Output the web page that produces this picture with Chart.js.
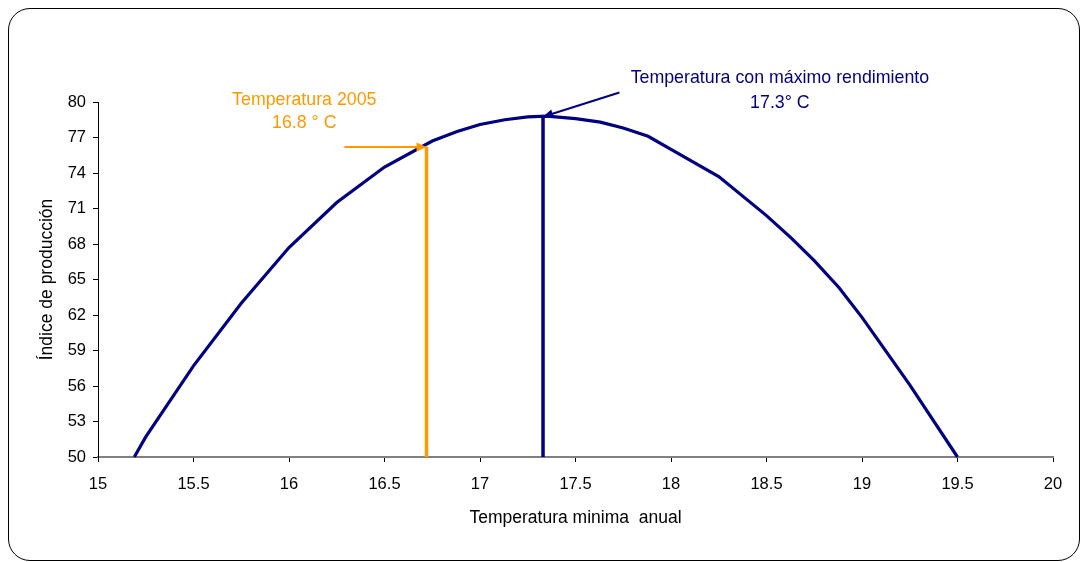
<!DOCTYPE html>
<html><head><meta charset="utf-8">
<script src="https://cdn.jsdelivr.net/npm/chart.js@4/dist/chart.umd.min.js"></script>
<style>
html,body{margin:0;padding:0;background:#fff;}
#wrap{position:relative;width:1083px;height:562px;overflow:hidden;}
#frame{position:absolute;left:8px;top:8px;width:1072px;height:553px;border:1.5px solid #000;border-radius:22px;box-sizing:border-box;pointer-events:none;}
canvas{position:absolute;left:0;top:0;}
</style>
</head><body>
<div id="wrap"><canvas id="c" width="1083" height="562"></canvas><div id="frame"></div></div>
<script>
// Curve data
const temps   = [15.19, 15.25, 15.5, 15.75, 16.0, 16.25, 16.5, 16.75, 16.88, 17.0, 17.13, 17.25, 17.35, 17.5, 17.63, 17.75, 17.88, 18.0, 18.25, 18.5, 18.63, 18.75, 18.88, 19.0, 19.25, 19.5];
const indices = [50.0, 51.7, 57.7, 63.0, 67.7, 71.5, 74.5, 76.7, 77.5, 78.1, 78.5, 78.75, 78.8, 78.6, 78.3, 77.8, 77.1, 76.0, 73.7, 70.4, 68.5, 66.6, 64.3, 61.8, 56.1, 50.0];
// Annotation lines
const line2005X = [16.72, 16.72];
const line2005Y = [50, 76.2];
const arrow2005X = [16.29, 16.72];
const arrow2005Y = [76.2, 76.2];
const lineMaxX = [17.33, 17.33];
const lineMaxY = [50, 78.75];
const arrowMaxX = [17.73, 17.33];
const arrowMaxY = [80.8, 78.75];
// Annotation texts
const label2005 = ["Temperatura 2005", "16.8 ° C"];
const label2005X = 16.08;
const label2005Y = [80.15, 78.2];
const labelMax = ["Temperatura con máximo rendimiento", "17.3° C"];
const labelMaxX = 18.57;
const labelMaxY = [82.0, 79.9];
// Axis ticks
const xMin = 15, xMax = 20, xStep = 0.5;
const yMin = 50, yMax = 80, yStep = 3;

const ORANGE = '#FF9900', NAVY = '#000080';
const pts = (xs, ys) => xs.map((x, i) => ({x: x, y: ys[i]}));

const arrowPlugin = {
  id: 'arrows',
  afterDatasetsDraw(chart) {
    const {ctx, scales: {x, y}} = chart;
    function head(xs, ys, color, size) {
      const x0 = x.getPixelForValue(xs[0]), y0 = y.getPixelForValue(ys[0]);
      const x1 = x.getPixelForValue(xs[1]), y1 = y.getPixelForValue(ys[1]);
      const a = Math.atan2(y1 - y0, x1 - x0);
      ctx.save();
      ctx.fillStyle = color;
      ctx.beginPath();
      ctx.moveTo(x1, y1);
      ctx.lineTo(x1 - size * Math.cos(a) + size * 0.45 * Math.sin(a), y1 - size * Math.sin(a) - size * 0.45 * Math.cos(a));
      ctx.lineTo(x1 - size * Math.cos(a) - size * 0.45 * Math.sin(a), y1 - size * Math.sin(a) + size * 0.45 * Math.cos(a));
      ctx.closePath();
      ctx.fill();
      ctx.restore();
    }
    head(arrow2005X, arrow2005Y, ORANGE, 10);
    head(arrowMaxX, arrowMaxY, NAVY, 10);
    ctx.save();
    ctx.font = '17.8px "Liberation Sans", Arial, sans-serif';
    ctx.textAlign = 'center';
    ctx.textBaseline = 'middle';
    ctx.fillStyle = ORANGE;
    label2005.forEach((t, i) => ctx.fillText(t, x.getPixelForValue(label2005X), y.getPixelForValue(label2005Y[i])));
    ctx.fillStyle = NAVY;
    labelMax.forEach((t, i) => ctx.fillText(t, x.getPixelForValue(labelMaxX), y.getPixelForValue(labelMaxY[i])));
    ctx.restore();
  }
};

const tickFont = {family: '"Liberation Sans", Arial, sans-serif', size: 16.5};
const titleFont = {family: '"Liberation Sans", Arial, sans-serif', size: 17.5};

new Chart(document.getElementById('c'), {
  type: 'scatter',
  data: {
    datasets: [
      {data: pts(line2005X, line2005Y), showLine: true, borderColor: ORANGE, borderWidth: 3.5, pointRadius: 0, clip: false},
      {data: pts(arrow2005X, arrow2005Y), showLine: true, borderColor: ORANGE, borderWidth: 2, pointRadius: 0, clip: false},
      {data: pts(lineMaxX, lineMaxY), showLine: true, borderColor: NAVY, borderWidth: 3.5, pointRadius: 0, clip: false},
      {data: pts(arrowMaxX, arrowMaxY), showLine: true, borderColor: NAVY, borderWidth: 2, pointRadius: 0, clip: false},
      {data: pts(temps, indices), showLine: true, borderColor: NAVY, borderWidth: 3.2, pointRadius: 0, tension: 0, clip: false}
    ]
  },
  options: {
    responsive: false,
    animation: false,
    events: [],
    layout: {padding: {left: 0, top: 102, right: 30, bottom: 0}},
    plugins: {legend: {display: false}, tooltip: {enabled: false}},
    scales: {
      x: {
        type: 'linear', min: xMin, max: xMax,
        afterFit: s => { s.height = 105; },
        ticks: {stepSize: xStep, color: '#000', font: tickFont, padding: 13, maxRotation: 0, callback: v => String(v)},
        grid: {drawOnChartArea: false, drawTicks: true, tickLength: 5, color: '#000'},
        border: {color: '#808080', width: 2},
        title: {display: true, text: 'Temperatura minima  anual', color: '#000', font: titleFont, padding: {top: 0, bottom: 33}}
      },
      y: {
        type: 'linear', min: yMin, max: yMax,
        afterFit: s => { s.width = 98; },
        ticks: {stepSize: yStep, color: '#000', font: tickFont, padding: 7},
        grid: {drawOnChartArea: false, drawTicks: true, tickLength: 5, color: '#000'},
        border: {color: '#000', width: 1},
        title: {display: true, text: 'Índice de producción', color: '#000', font: titleFont, padding: {top: 37, bottom: 0}}
      }
    }
  },
  plugins: [arrowPlugin]
});
</script>
</body></html>
